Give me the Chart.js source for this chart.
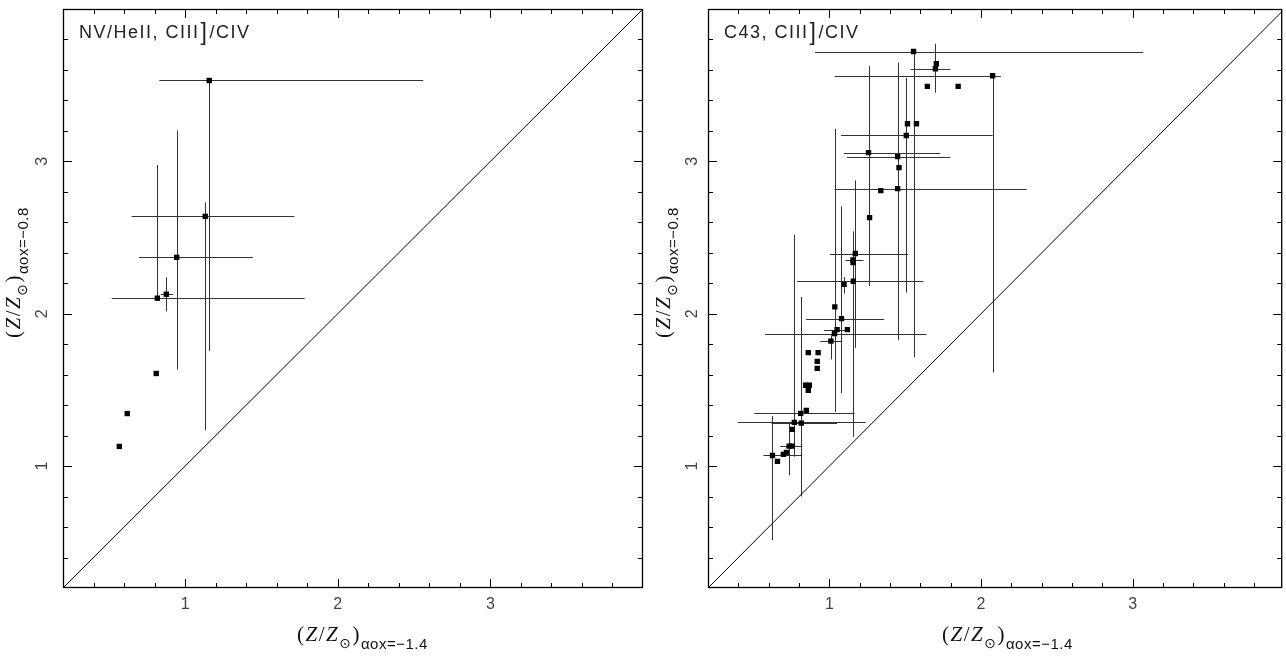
<!DOCTYPE html>
<html>
<head>
<meta charset="utf-8">
<title>Z/Zsun alpha_ox comparison</title>
<script src="https://cdn.jsdelivr.net/npm/chart.js@4.4.1/dist/chart.umd.min.js"></script>
<style>
  html, body { margin: 0; padding: 0; background: #fff; }
  #wrap { position: relative; width: 1286px; height: 656px; overflow: hidden; }
  .panel { position: absolute; top: 0; height: 656px; }
  #left { left: 0; width: 650px; }
  #right { left: 650px; width: 636px; }
</style>
</head>
<body>
<div id="wrap">
  <div class="panel" id="left"><canvas id="chartLeft"></canvas></div>
  <div class="panel" id="right"><canvas id="chartRight"></canvas></div>
</div>
<script>
// axis setup
const tickValues = [1, 2, 3];
const axisMin = 0.2;
const axisMax = 4.0;
const minorStep = 0.2;
const diagonalEnds = [0.2, 4.0];

// left panel: NV/HeII, CIII]/CIV
const leftX   = [1.158, 1.132, 0.945, 0.818, 0.877, 0.811, 0.621, 0.569];
const leftY   = [3.531, 2.639, 2.370, 2.102, 2.128, 1.608, 1.345, 1.129];
const leftXLo = [0.831, 0.650, 0.698, 0.519, 0.840, null, null, null];
const leftXHi = [2.560, 1.716, 1.444, 1.783, 0.922, null, null, null];
const leftYLo = [1.756, 1.236, 1.634, null, 2.016, null, null, null];
const leftYHi = [null, 2.731, 3.203, 2.976, 2.240, null, null, null];

// right panel: C43, CIII]/CIV
const rightX = [1.555, 1.699, 1.705, 1.646, 1.849, 2.076, 1.515, 1.574, 1.507, 1.258,
  1.450, 1.459, 1.450, 1.339, 1.265, 1.171, 1.156, 1.156, 1.158, 1.097,
  1.036, 1.080, 1.051, 1.119, 1.034, 1.010, 0.861, 0.926, 0.920, 0.920,
  0.844, 0.868, 0.861, 0.848, 0.811, 0.769, 0.815, 0.756, 0.735, 0.756,
  0.717, 0.697, 0.625, 0.658];
const rightY = [3.721, 3.608, 3.641, 3.492, 3.492, 3.562, 3.247, 3.247, 3.170, 3.057,
  3.031, 2.959, 2.821, 2.808, 2.631, 2.395, 2.353, 2.336, 2.213, 2.193,
  2.045, 1.968, 1.896, 1.896, 1.870, 1.820, 1.745, 1.745, 1.687, 1.641,
  1.531, 1.531, 1.498, 1.365, 1.346, 1.287, 1.282, 1.241, 1.131, 1.131,
  1.090, 1.077, 1.070, 1.031];
const rightXLo = [0.905, 1.535, null, null, null, 1.035, null, null, 1.077, 1.097,
  1.116, null, 1.034, null, null, 1.003, 1.106, null, 0.787, null,
  null, 0.846, 0.964, null, 0.576, 0.940, null, null, null, null,
  null, null, null, null, 0.505, 0.396, 0.619, null, 0.676, null,
  null, null, 0.565, null];
const rightXHi = [3.069, 1.797, null, null, null, 2.131, null, null, 2.076, 1.731,
  1.797, null, 2.301, null, null, 1.519, 1.225, null, 1.620, null,
  null, 1.361, 1.127, null, 1.640, 1.080, null, null, null, null,
  null, null, null, null, 1.165, 1.240, 1.051, null, 0.822, null,
  null, null, 0.822, null];
const rightYLo = [1.715, 3.451, null, null, null, 1.614, null, null, 2.139, 2.182,
  1.826, null, 2.066, null, null, 1.776, 2.307, null, 1.192, 2.132,
  null, 1.479, null, null, 1.356, 1.700, null, null, null, null,
  null, null, null, null, 0.930, 1.061, 0.800, null, 0.941, null,
  null, null, 0.515, null];
const rightYHi = [null, 3.772, null, null, null, null, null, null, 3.549, 3.625,
  3.648, null, 3.061, null, null, 2.875, 2.541, null, 2.450, 2.241,
  null, 2.705, null, null, 3.214, 1.859, null, null, null, null,
  null, null, null, null, 2.110, 2.519, 2.082, null, 1.287, null,
  null, null, 1.330, null];

const tickFont = '16px "Liberation Sans", Arial, sans-serif';
const labelFont = '18px "Liberation Sans", Arial, sans-serif';

function crisp(p) {
  return Math.round(p) + 0.5;
}

function drawTicks(ctx, scale, area, horizontal) {
  for (let k = 1; ; k++) {
    const v = +(axisMin + k * minorStep).toFixed(2);
    if (v >= scale.max - 1e-6) break;
    const major = Math.abs(v - Math.round(v)) < 1e-6;
    const len = major ? 9 : 5;
    const p = crisp(scale.getPixelForValue(v));
    ctx.beginPath();
    if (horizontal) {
      ctx.moveTo(p, area.bottom); ctx.lineTo(p, area.bottom - len);
      ctx.moveTo(p, area.top); ctx.lineTo(p, area.top + len);
    } else {
      ctx.moveTo(area.left, p); ctx.lineTo(area.left + len, p);
      ctx.moveTo(area.right, p); ctx.lineTo(area.right - len, p);
    }
    ctx.stroke();
  }
}

// (Z/Z_sun)_{aox=...} written piece by piece along the current x direction
function drawAxisTitle(ctx, sub) {
  const pieces = [
    { t: '(', f: '21px "Liberation Serif", serif', dy: 0 },
    { t: 'Z', f: 'italic 21px "Liberation Serif", serif', dy: 0 },
    { t: '/', f: '21px "Liberation Serif", serif', dy: 0 },
    { t: 'Z', f: 'italic 21px "Liberation Serif", serif', dy: 0 },
    { t: '\u2299', f: '14px "DejaVu Sans", sans-serif', dy: 7 },
    { t: ')', f: '21px "Liberation Serif", serif', dy: 0 },
    { t: sub, f: '15px "Liberation Sans", sans-serif', dy: 8 },
  ];
  let x = 0;
  ctx.letterSpacing = '0.5px';
  pieces.forEach((p) => {
    ctx.font = p.f;
    ctx.fillText(p.t, x, p.dy);
    x += ctx.measureText(p.t).width + 1;
  });
  ctx.letterSpacing = '0px';
}

const panelDecor = {
  id: 'panelDecor',
  beforeDatasetsDraw(chart, args, opts) {
    const { ctx, chartArea: a, scales: { x, y } } = chart;
    const e = opts.errors;
    ctx.save();
    ctx.beginPath();
    ctx.rect(a.left, a.top, a.right - a.left, a.bottom - a.top);
    ctx.clip();
    ctx.strokeStyle = '#333';
    ctx.lineWidth = 1;
    e.x.forEach((xv, i) => {
      const px = crisp(x.getPixelForValue(xv));
      const py = crisp(y.getPixelForValue(e.y[i]));
      ctx.beginPath();
      if (e.xLo[i] != null) { ctx.moveTo(x.getPixelForValue(e.xLo[i]), py); ctx.lineTo(px, py); }
      if (e.xHi[i] != null) { ctx.moveTo(px, py); ctx.lineTo(x.getPixelForValue(e.xHi[i]), py); }
      if (e.yLo[i] != null) { ctx.moveTo(px, py); ctx.lineTo(px, y.getPixelForValue(e.yLo[i])); }
      if (e.yHi[i] != null) { ctx.moveTo(px, py); ctx.lineTo(px, y.getPixelForValue(e.yHi[i])); }
      ctx.stroke();
    });
    ctx.restore();
  },
  afterDraw(chart, args, opts) {
    const { ctx, chartArea: a, scales: { x, y } } = chart;
    ctx.save();
    ctx.strokeStyle = '#000';
    ctx.lineWidth = 1.3;
    ctx.strokeRect(a.left + 0.5, a.top + 0.5, a.right - a.left - 1, a.bottom - a.top - 1);
    ctx.lineWidth = 1;
    drawTicks(ctx, x, a, true);
    drawTicks(ctx, y, a, false);

    // tick labels
    ctx.fillStyle = '#444';
    ctx.font = tickFont;
    ctx.textAlign = 'center';
    ctx.textBaseline = 'middle';
    tickValues.forEach((v) => {
      ctx.fillText(String(v), x.getPixelForValue(v), a.bottom + 17);
      ctx.save();
      ctx.translate(a.left - opts.yLabelGap, y.getPixelForValue(v));
      ctx.rotate(-Math.PI / 2);
      ctx.fillText(String(v), 0, 0);
      ctx.restore();
    });

    // panel label
    ctx.fillStyle = '#222';
    ctx.textAlign = 'left';
    ctx.textBaseline = 'alphabetic';
    ctx.letterSpacing = '1.5px';
    let lx = a.left + 16;
    opts.label.forEach((part) => {
      ctx.font = part.big ? '23px "Liberation Sans", Arial, sans-serif' : labelFont;
      ctx.fillText(part.t, lx, 38 + (part.big ? 2 : 0));
      lx += ctx.measureText(part.t).width + 1;
    });
    ctx.letterSpacing = '0px';

    // axis titles
    ctx.fillStyle = '#111';
    ctx.save();
    ctx.translate(a.left + 234, 641);
    drawAxisTitle(ctx, '\u03b1ox=\u22121.4');
    ctx.restore();
    ctx.save();
    ctx.translate(20, 338);
    ctx.rotate(-Math.PI / 2);
    drawAxisTitle(ctx, '\u03b1ox=\u22120.8');
    ctx.restore();
    ctx.restore();
  },
};

function makePanel(canvasId, xs, ys, xLo, xHi, yLo, yHi, label, padding, xMax, yLabelGap) {
  const ctx = document.getElementById(canvasId).getContext('2d');
  return new Chart(ctx, {
    type: 'scatter',
    data: {
      datasets: [
        {
          label: 'one to one',
          type: 'line',
          data: diagonalEnds.map((v) => ({ x: v, y: v })),
          borderColor: '#000',
          borderWidth: 1,
          pointRadius: 0,
          fill: false,
        },
        {
          label: 'objects',
          data: xs.map((v, i) => ({ x: v, y: ys[i] })),
          pointStyle: 'rect',
          pointRadius: 3.8,
          pointHoverRadius: 3.8,
          backgroundColor: '#000',
          borderWidth: 0,
        },
      ],
    },
    options: {
      responsive: true,
      maintainAspectRatio: false,
      animation: false,
      events: [],
      layout: { padding },
      plugins: {
        legend: { display: false },
        tooltip: { enabled: false },
        panelDecor: {
          errors: { x: xs, y: ys, xLo, xHi, yLo, yHi },
          label,
          yLabelGap,
        },
      },
      scales: {
        x: { type: 'linear', min: axisMin, max: xMax, display: false },
        y: { type: 'linear', min: axisMin, max: axisMax, display: false },
      },
    },
    plugins: [panelDecor],
  });
}

makePanel('chartLeft', leftX, leftY, leftXLo, leftXHi, leftYLo, leftYHi,
  [{ t: 'NV/HeII, CIII' }, { t: ']', big: true }, { t: '/CIV' }],
  { left: 63, right: 7, top: 9, bottom: 68 }, axisMax, 20);

makePanel('chartRight', rightX, rightY, rightXLo, rightXHi, rightYLo, rightYHi,
  [{ t: 'C43, CIII' }, { t: ']', big: true }, { t: '/CIV' }],
  { left: 58, right: 1, top: 9, bottom: 68 }, 3.985, 15);
</script>
</body>
</html>
